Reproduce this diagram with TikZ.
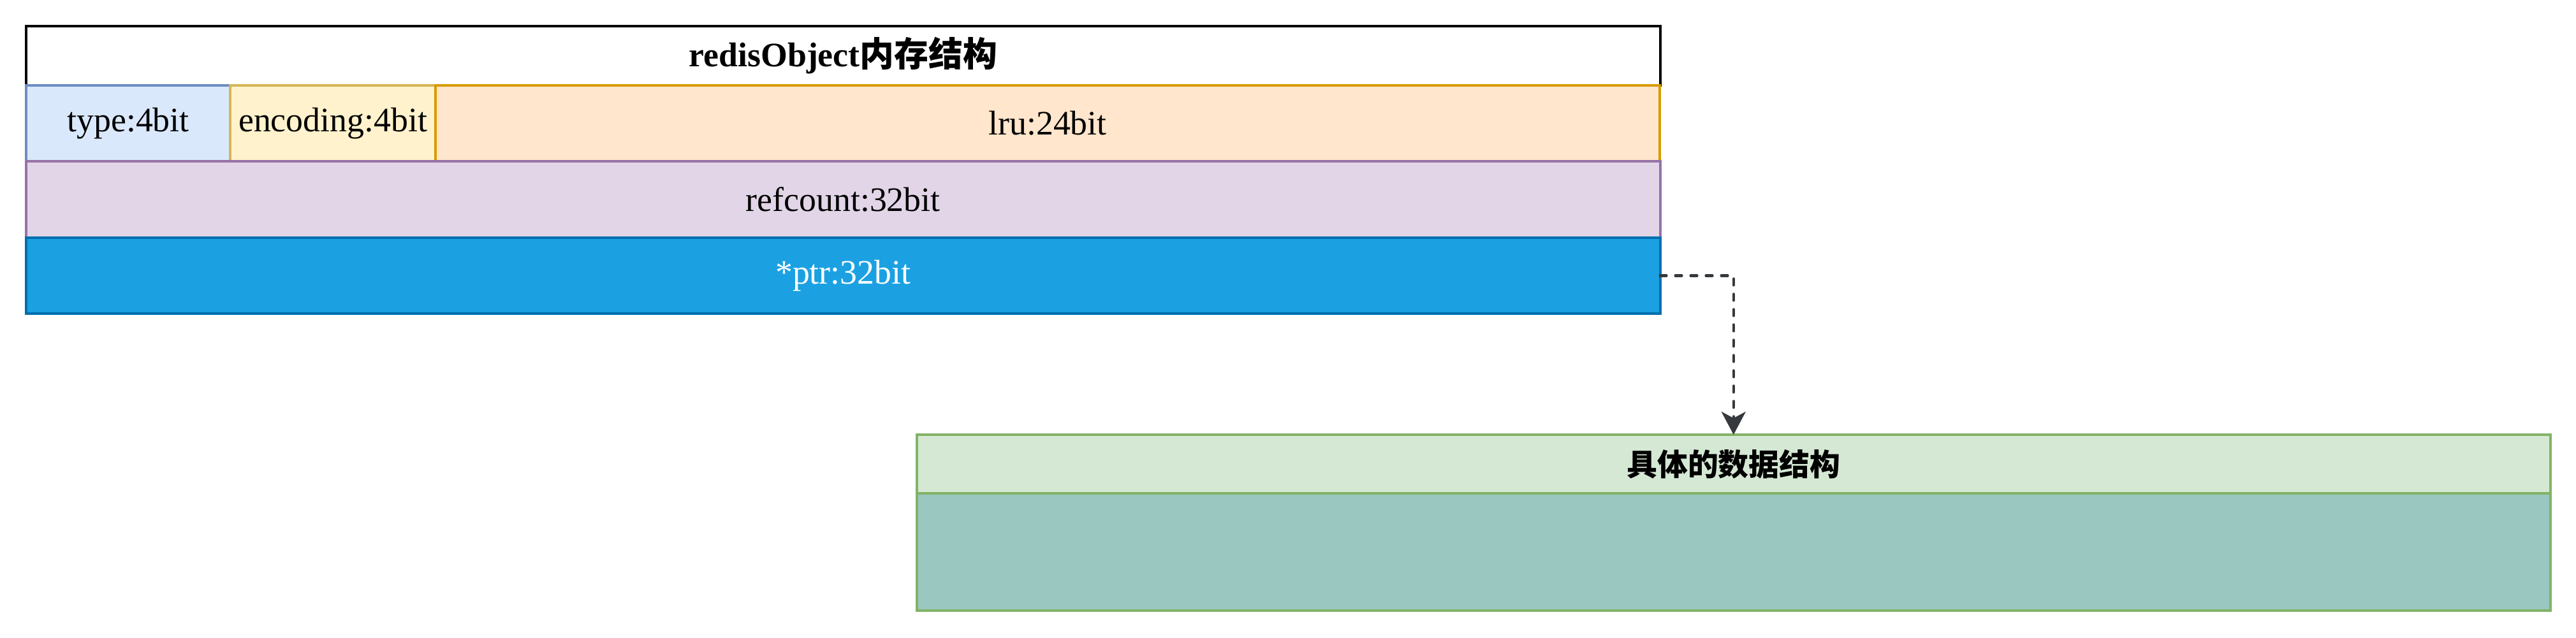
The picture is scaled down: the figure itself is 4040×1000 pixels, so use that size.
\documentclass[tikz,border=0pt]{standalone}
\usepackage{fontspec}
\setmainfont{Liberation Serif}
\newfontfamily\cjk{Noto Sans CJK SC}
\usetikzlibrary{arrows.meta}
\definecolor{typeFill}{HTML}{DAE8FC}\definecolor{typeLine}{HTML}{6C8EBF}
\definecolor{encFill}{HTML}{FFF2CC}\definecolor{encLine}{HTML}{D6B656}
\definecolor{lruFill}{HTML}{FFE6CC}\definecolor{lruLine}{HTML}{D79B00}
\definecolor{refFill}{HTML}{E1D5E7}\definecolor{refLine}{HTML}{9673A6}
\definecolor{ptrFill}{HTML}{1BA1E2}\definecolor{ptrLine}{HTML}{006EAF}
\definecolor{grnFill}{HTML}{D5E8D4}\definecolor{grnLine}{HTML}{82B366}
\definecolor{bodyFill}{HTML}{9AC7BF}
\definecolor{arrowCol}{HTML}{36393D}
\begin{document}
\begin{tikzpicture}[x=0.01cm,y=-0.01cm,
  cell/.style={draw, line width=1.15pt, inner sep=0pt, outer sep=0pt, anchor=north west,
    font=\fontsize{15.3}{18}\selectfont},
  conn/.style={draw=arrowCol, line width=1.2pt, line cap=round, dash pattern=on 0.1cm off 0.14cm,
    -{Stealth[length=0.36cm,width=0.38cm,inset=0.1cm]}}]
\useasboundingbox (0,0) rectangle (4040,1000);
\node[cell, draw=black, fill=white, minimum width=25.61cm, minimum height=0.93cm,
  font=\fontsize{15.3}{18}\selectfont\bfseries] (title) at (41,41) {redisObject{\cjk\bfseries 内存结构}};
\node[cell, draw=typeLine, fill=typeFill, minimum width=3.20cm, minimum height=1.19cm] (type) at (41,134) {type:4bit};
\node[cell, draw=encLine, fill=encFill, minimum width=3.22cm, minimum height=1.19cm] (enc) at (361,134) {encoding:4bit};
\node[cell, draw=lruLine, fill=lruFill, minimum width=19.19cm, minimum height=1.19cm] (lru) at (683,134) {lru:24bit};
\node[cell, draw=refLine, fill=refFill, minimum width=25.61cm, minimum height=1.20cm] (ref) at (41,253) {refcount:32bit};
\node[cell, draw=ptrLine, fill=ptrFill, text=white, minimum width=25.61cm, minimum height=1.19cm] (ptr) at (41,373) {*ptr:32bit};
\node[cell, draw=grnLine, fill=grnFill, minimum width=25.60cm, minimum height=0.92cm,
  font=\fontsize{13.6}{16}\selectfont\cjk\bfseries] (hdr) at (1438,682) {具体的数据结构};
\node[cell, draw=grnLine, fill=bodyFill, minimum width=25.60cm, minimum height=1.84cm] (body) at (1438,774) {};
\draw[conn] (ptr.east) -| (hdr.north);
\end{tikzpicture}
\end{document}
